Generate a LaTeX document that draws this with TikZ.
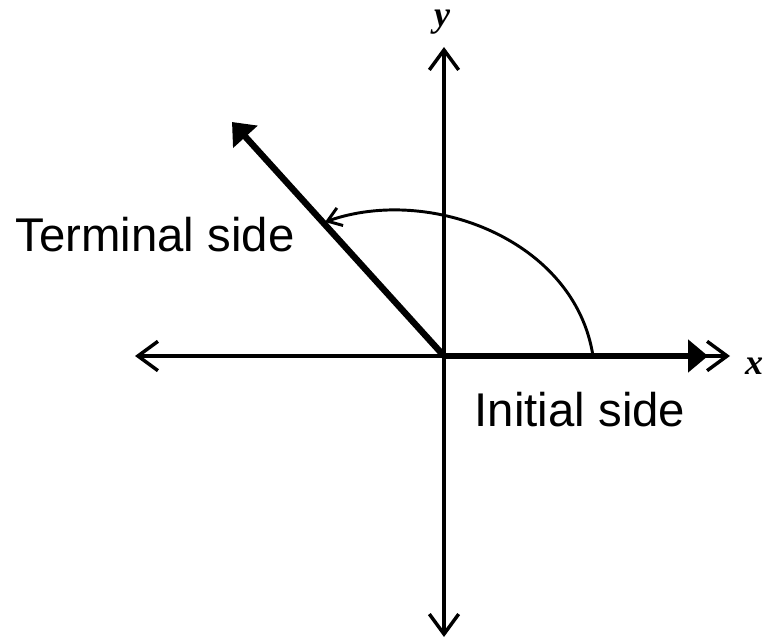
\documentclass[tikz,border=0pt]{standalone}
\usepackage{fontspec}
\setmainfont{Liberation Sans}
\newfontfamily\axisfont{Liberation Serif}
\usetikzlibrary{arrows.meta}
\begin{document}
\begin{tikzpicture}[x=0.75pt,y=-0.75pt,
  axisline/.style={line width=2.6pt,{Straight Barb[length=15pt,width=22pt]}-{Straight Barb[length=15pt,width=22pt]}},
  sideline/.style={line width=4.8pt,-{Triangle[length=15pt,width=24pt]}},
  arcline/.style={line width=2.2pt,-{Straight Barb[length=10pt,width=14pt]}},
  label/.style={font=\fontsize{35.5}{40}\selectfont,inner sep=0pt,anchor=base},
  axislabel/.style={font=\axisfont\bfseries\itshape\fontsize{27}{31}\selectfont,inner sep=0pt,anchor=base}]
\path[use as bounding box] (0,0) rectangle (763,641);
\coordinate (O) at (444,356);
\coordinate (xl) at (135,356);
\coordinate (xr) at (730,356);
\coordinate (yt) at (444,47);
\coordinate (yb) at (444,637);
\coordinate (ti) at (708,356);
\coordinate (tt) at (232,122);
\coordinate (as) at (593,356);
\coordinate (ae) at (325,222);
\draw[axisline] (xl) -- (xr);
\draw[axisline] (yb) -- (yt);
\draw[sideline] (O) -- (ti);
\draw[sideline] (O) -- (tt);
\draw[arcline] (as) .. controls (575,240) and (430,185) .. (ae);
\node[label] (term) at (155,252) {Terminal side};
\node[label] (init) at (580,426) {Initial side};
\node[axislabel] (xlab) at (754,374) {x};
\node[axislabel] (ylab) at (442,27) {y};
\end{tikzpicture}
\end{document}
